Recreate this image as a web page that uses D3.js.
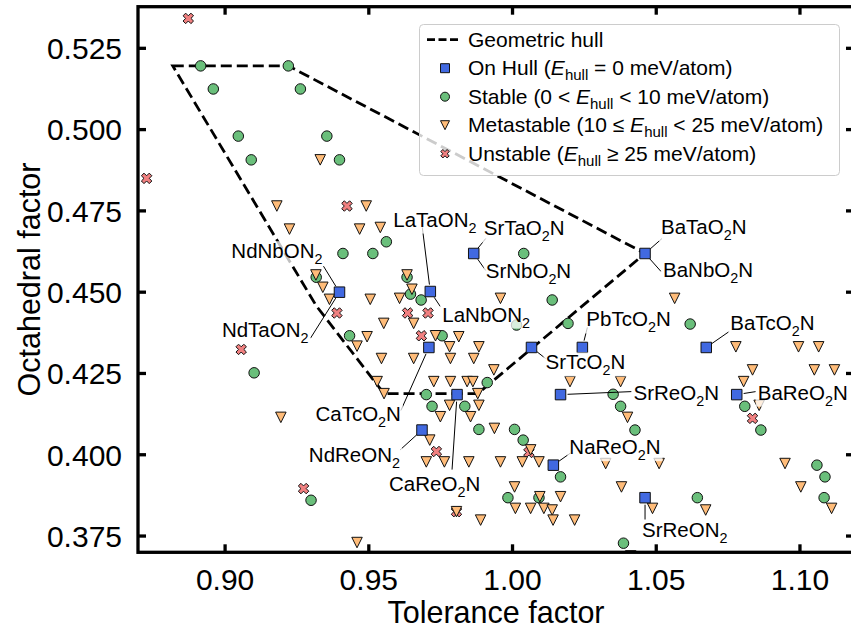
<!DOCTYPE html>
<html>
<head>
<meta charset="utf-8">
<script src="https://cdn.jsdelivr.net/npm/d3@7"></script>
<style>
body { margin: 0; background: #fff; }
svg text { font-family: "Liberation Sans", Arial, Helvetica, sans-serif; fill: #000; }
</style>
</head>
<body>
<svg id="chart" width="851" height="628"></svg>
<script>
var xTicks = [0.90, 0.95, 1.00, 1.05, 1.10];
var yTicks = [0.375, 0.400, 0.425, 0.450, 0.475, 0.500, 0.525];

// geometric hull polygon, [tolerance, octahedral]
var hullVertices = [
    [0.8818, 0.5196], [0.9220, 0.5196], [1.0461, 0.4619],
    [0.9879, 0.4188], [0.9553, 0.4188], [0.9318, 0.4457]
];

var onHull = [
    [0.9398, 0.4500], [0.9714, 0.4502], [0.9865, 0.4619], [1.0461, 0.4619],
    [0.9709, 0.4330], [1.0066, 0.4330], [1.0243, 0.4330], [1.0674, 0.4330],
    [0.9807, 0.4185], [1.0167, 0.4185], [1.0780, 0.4185], [0.9685, 0.4076],
    [1.0142, 0.3968], [1.0461, 0.3868]
];
var onHullNames = [
    ["NdNbON2", "NdTaON2"], ["LaTaON2", "LaNbON2"], ["SrTaO2N", "SrNbO2N"], ["BaTaO2N", "BaNbO2N"],
    ["CaTcO2N"], ["SrTcO2N"], ["PbTcO2N"], ["BaTcO2N"],
    ["CaReO2N"], ["SrReO2N"], ["BaReO2N"], ["NdReON2"],
    ["NaReO2N"], ["SrReON2"]
];

var stable = [
    [0.8915, 0.5196], [0.9220, 0.5196], [0.8959, 0.5125], [0.9262, 0.5125], [0.9046, 0.4980],
    [0.9354, 0.4980], [0.9091, 0.4907], [0.9398, 0.4907], [0.9410, 0.4619], [0.9514, 0.4619],
    [0.9561, 0.4655], [0.9317, 0.4546], [0.9633, 0.4546], [0.9645, 0.4494], [0.9682, 0.4476],
    [1.0039, 0.4619], [1.0138, 0.4476], [1.0193, 0.4404], [1.0014, 0.4399], [0.9433, 0.4366],
    [0.9755, 0.4366], [0.9101, 0.4252], [0.9912, 0.4222], [0.9700, 0.4185], [0.9720, 0.4149],
    [0.9834, 0.4149], [0.9883, 0.4078], [1.0007, 0.4078], [1.0037, 0.4045], [1.0167, 0.3932],
    [0.9984, 0.3868], [1.0092, 0.3868], [0.9299, 0.3860], [1.0618, 0.4402], [1.0350, 0.4186],
    [1.0376, 0.4149], [1.0426, 0.4076], [1.0808, 0.4149], [1.0864, 0.4076], [1.1059, 0.3968],
    [1.1087, 0.3932], [1.0643, 0.3868], [1.1084, 0.3868], [1.0386, 0.3728]
];

var metastable = [
    [0.9331, 0.4907], [0.9180, 0.4765], [0.9491, 0.4765], [0.9224, 0.4694], [0.9468, 0.4694],
    [0.9540, 0.4699], [0.9316, 0.4553], [0.9340, 0.4515], [0.9363, 0.4478], [0.9505, 0.4478],
    [0.9633, 0.4553], [0.9650, 0.4509], [0.9607, 0.4481], [0.9958, 0.4481], [0.9552, 0.4404],
    [0.9656, 0.4404], [0.9494, 0.4363], [0.9459, 0.4334], [0.9732, 0.4366], [0.9813, 0.4363],
    [0.9781, 0.4332], [0.9883, 0.4332], [0.9544, 0.4296], [0.9656, 0.4296], [0.9784, 0.4296],
    [0.9865, 0.4296], [0.9935, 0.4261], [0.9529, 0.4225], [0.9726, 0.4225], [0.9784, 0.4225],
    [0.9842, 0.4225], [0.9862, 0.4225], [1.0200, 0.4225], [0.9553, 0.4188], [0.9879, 0.4188],
    [0.9781, 0.4152], [0.9883, 0.4152], [0.9749, 0.4117], [0.9854, 0.4117], [0.9937, 0.4081],
    [0.9712, 0.4045], [1.0063, 0.4015], [0.9700, 0.3978], [0.9763, 0.3978], [0.9848, 0.3978],
    [0.9958, 0.3978], [1.0034, 0.3978], [1.0092, 0.3978], [1.0007, 0.3901], [1.0095, 0.3871],
    [1.0167, 0.3871], [1.0010, 0.3835], [1.0063, 0.3835], [1.0109, 0.3835], [1.0138, 0.3830],
    [1.0141, 0.3799], [1.0216, 0.3799], [0.9889, 0.3799], [0.9805, 0.3825], [0.9194, 0.4115],
    [0.9459, 0.3730], [1.0564, 0.4481], [1.0777, 0.4332], [1.0995, 0.4332], [1.1065, 0.4332],
    [1.0835, 0.4261], [1.1050, 0.4261], [1.1120, 0.4261], [1.0376, 0.4225], [1.0804, 0.4225],
    [1.0400, 0.4115], [1.0858, 0.4152], [1.0324, 0.3973], [1.0510, 0.3973], [1.0948, 0.3973],
    [1.0379, 0.3901], [1.1003, 0.3901], [1.0487, 0.3835], [1.0672, 0.3830], [1.1110, 0.3835],
    [1.0411, 0.3689]
];

var unstable = [
    [0.8872, 0.5342], [0.8727, 0.4850], [0.9424, 0.4765], [0.9389, 0.4436], [0.9056, 0.4324],
    [0.9635, 0.4436], [0.9706, 0.4436], [0.9683, 0.4366], [1.0835, 0.4112], [0.9735, 0.4010],
    [1.0057, 0.4007], [0.9805, 0.3825], [0.9273, 0.3896]
];

// ---- layout
var plot = {left: 138, right: 854, top: 6.7, bottom: 552.3};
var COLORS = {onHull: '#4169e1', stable: '#6abf7b', metastable: '#ffbc79', unstable: '#f08080'};

// text anchor, text dx/dy (baseline), leader start dx/dy, all px from the marker
var labelPos = {
    NdNbON2: ['end', -17, -34, -16, -26],
    NdTaON2: ['end', -31, 45, -29, 46],
    LaTaON2: ['start', -37, -65, -8, -64],
    LaNbON2: ['start', 12, 30, 10, 15],
    SrTaO2N: ['start', 10, -18, 12, -15],
    SrNbO2N: ['start', 12, 25, 12, 17],
    BaTaO2N: ['start', 16, -19, 17, -15],
    BaNbO2N: ['start', 18, 24, 16, 18],
    SrTcO2N: ['start', 14, 22, 14, 11],
    PbTcO2N: ['start', 4, -21, 5, -20],
    BaTcO2N: ['start', 24, -17, 23, -16],
    CaTcO2N: ['end', -28, 74, -28, 63],
    CaReO2N: ['start', -68, 96, -5, 75],
    NdReON2: ['end', -22, 32, -22, 20],
    NaReO2N: ['start', 16, -11, 17, -12],
    SrReO2N: ['start', 73, 5, 71, -3],
    BaReO2N: ['start', 21, 5, 19, -3],
    SrReON2: ['start', -3, 39, 0, 22]
};

var svg = d3.select('#chart');

var x = d3.scaleLinear().domain([0.8697, 1.1188]).range([plot.left, plot.right]);
var y = d3.scaleLinear().domain([0.3700, 0.5378]).range([plot.bottom, plot.top]);

svg.append('defs').append('clipPath').attr('id', 'clip')
    .append('rect')
    .attr('x', plot.left).attr('y', plot.top)
    .attr('width', plot.right - plot.left).attr('height', plot.bottom - plot.top);

function markerPath(kind, s) {
    var h = s / 2;
    if (kind === 'onHull') {
        return 'M' + (-h) + ',' + (-h) + 'h' + s + 'v' + s + 'h' + (-s) + 'Z';
    }
    if (kind === 'stable') {
        return d3.symbol(d3.symbolCircle, Math.PI * h * h)();
    }
    if (kind === 'metastable') {
        return 'M' + (-h) + ',' + (-h) + 'L' + h + ',' + (-h) + 'L0,' + h + 'Z';
    }
    // filled X, a plus rotated 45 degrees
    var k = s / 5.66, r = Math.SQRT1_2;
    var pts = [[-1, -3], [1, -3], [1, -1], [3, -1], [3, 1], [1, 1], [1, 3], [-1, 3], [-1, 1], [-3, 1], [-3, -1], [-1, -1]];
    return 'M' + pts.map(function (p) {
        return [((p[0] - p[1]) * r * k).toFixed(2), ((p[0] + p[1]) * r * k).toFixed(2)].join(',');
    }).join('L') + 'Z';
}

var main = svg.append('g').attr('clip-path', 'url(#clip)');

// hull
main.append('path')
    .datum(hullVertices)
    .attr('d', d3.line().x(function (d) { return x(d[0]); }).y(function (d) { return y(d[1]); }).curve(d3.curveLinearClosed))
    .attr('fill', 'none')
    .attr('stroke', '#000')
    .attr('stroke-width', 2.8)
    .attr('stroke-dasharray', '11,5');

function drawPoints(data, kind, size) {
    main.append('g').selectAll('path')
        .data(data)
      .enter().append('path')
        .attr('transform', function (d) { return 'translate(' + x(d[0]) + ',' + y(d[1]) + ')'; })
        .attr('d', markerPath(kind, size))
        .attr('fill', COLORS[kind])
        .attr('stroke', '#111')
        .attr('stroke-width', 1);
}
drawPoints(unstable, 'unstable', 10.5);
drawPoints(stable, 'stable', 10.5);
drawPoints(metastable, 'metastable', 10.5);
drawPoints(onHull, 'onHull', 10.5);

// formula with subscript digits
function writeFormula(sel, str, size) {
    var parts = str.match(/[0-9]+|[^0-9]+/g);
    var down = false;
    parts.forEach(function (p) {
        var isSub = /^[0-9]/.test(p);
        var t = sel.append('tspan').text(p);
        if (isSub) {
            t.attr('font-size', size * 0.7).attr('dy', 6);
            down = true;
        } else if (down) {
            t.attr('dy', -6);
            down = false;
        }
    });
}

var ann = svg.append('g');
onHull.forEach(function (p, i) {
    var px = x(p[0]), py = y(p[1]);
    onHullNames[i].forEach(function (name) {
        var L = labelPos[name];
        var sx = px + L[3], sy = py + L[4];
        var dx = px - sx, dy = py - sy, len = Math.sqrt(dx * dx + dy * dy);
        var shrink = 7;
        ann.append('line')
            .attr('x1', sx).attr('y1', sy)
            .attr('x2', px - dx / len * shrink).attr('y2', py - dy / len * shrink)
            .attr('stroke', '#000').attr('stroke-width', 1);
        var g = ann.append('g');
        var base = py + L[2];
        var t = g.append('text')
            .attr('x', px + L[1]).attr('y', base)
            .attr('text-anchor', L[0])
            .attr('font-size', 20.5);
        writeFormula(t, name, 20.5);
        var bb = t.node().getBBox();
        g.insert('rect', 'text')
            .attr('x', bb.x - 2).attr('y', base - 17)
            .attr('width', bb.width + 4).attr('height', 24)
            .attr('fill', '#fff').attr('fill-opacity', 0.75);
    });
});

// axes frame and ticks
var axisG = svg.append('g');
axisG.append('rect')
    .attr('x', plot.left).attr('y', plot.top)
    .attr('width', plot.right - plot.left).attr('height', plot.bottom - plot.top)
    .attr('fill', 'none').attr('stroke', '#000').attr('stroke-width', 3.3);

var tickLen = 8;
xTicks.forEach(function (v) {
    var px = x(v);
    axisG.append('line').attr('x1', px).attr('x2', px).attr('y1', plot.bottom).attr('y2', plot.bottom - tickLen);
    axisG.append('line').attr('x1', px).attr('x2', px).attr('y1', plot.top).attr('y2', plot.top + tickLen);
    axisG.append('text')
        .attr('x', px).attr('y', 589.5)
        .attr('text-anchor', 'middle')
        .attr('font-size', 30)
        .text(d3.format('.2f')(v));
});
yTicks.forEach(function (v) {
    var py = y(v);
    axisG.append('line').attr('y1', py).attr('y2', py).attr('x1', plot.left).attr('x2', plot.left + tickLen);
    axisG.append('line').attr('y1', py).attr('y2', py).attr('x1', plot.right).attr('x2', plot.right - tickLen);
    axisG.append('text')
        .attr('x', 122).attr('y', py)
        .attr('dy', '0.36em')
        .attr('text-anchor', 'end')
        .attr('font-size', 30)
        .text(d3.format('.3f')(v));
});
axisG.selectAll('line').attr('stroke', '#000').attr('stroke-width', 3.3);

axisG.append('text')
    .attr('x', (plot.left + plot.right) / 2).attr('y', 622.5)
    .attr('text-anchor', 'middle')
    .attr('font-size', 30.5)
    .text('Tolerance factor');
axisG.append('text')
    .attr('transform', 'translate(40,' + (plot.top + plot.bottom) / 2 + ') rotate(-90)')
    .attr('text-anchor', 'middle')
    .attr('font-size', 30.5)
    .text('Octahedral factor');

// legend
var legendRows = [
    {kind: 'hull', parts: [['Geometric hull']]},
    {kind: 'onHull', parts: [['On Hull ('], ['E', 'i'], ['hull', 's'], [' = 0 meV/atom)']]},
    {kind: 'stable', parts: [['Stable (0 < '], ['E', 'i'], ['hull', 's'], [' < 10 meV/atom)']]},
    {kind: 'metastable', parts: [['Metastable (10 \u2264 '], ['E', 'i'], ['hull', 's'], [' < 25 meV/atom)']]},
    {kind: 'unstable', parts: [['Unstable ('], ['E', 'i'], ['hull', 's'], [' \u2265 25 meV/atom)']]}
];

var leg = svg.append('g');
leg.append('rect')
    .attr('x', 419.5).attr('y', 24.5).attr('width', 420).attr('height', 151).attr('rx', 4)
    .attr('fill', '#fff').attr('fill-opacity', 0.8)
    .attr('stroke', '#ccc').attr('stroke-width', 1);

legendRows.forEach(function (row, i) {
    var base = 46.7 + i * 28.5, my = base - 7;
    if (row.kind === 'hull') {
        leg.append('line')
            .attr('x1', 427).attr('x2', 459).attr('y1', my).attr('y2', my)
            .attr('stroke', '#000').attr('stroke-width', 2.8).attr('stroke-dasharray', '8,3.5');
    } else {
        leg.append('path')
            .attr('transform', 'translate(445,' + my + ')')
            .attr('d', markerPath(row.kind, row.kind === 'unstable' ? 8.5 : 9))
            .attr('fill', COLORS[row.kind])
            .attr('stroke', '#111').attr('stroke-width', 1);
    }
    var t = leg.append('text').attr('x', 468).attr('y', base).attr('font-size', 21);
    var down = false;
    row.parts.forEach(function (p) {
        var s = t.append('tspan').text(p[0]);
        if (p[1] === 'i') s.attr('font-style', 'italic');
        if (p[1] === 's') { s.attr('font-size', 15).attr('dy', 5); down = true; }
        else if (down) { s.attr('dy', -5); down = false; }
    });
});
</script>
</body>
</html>
